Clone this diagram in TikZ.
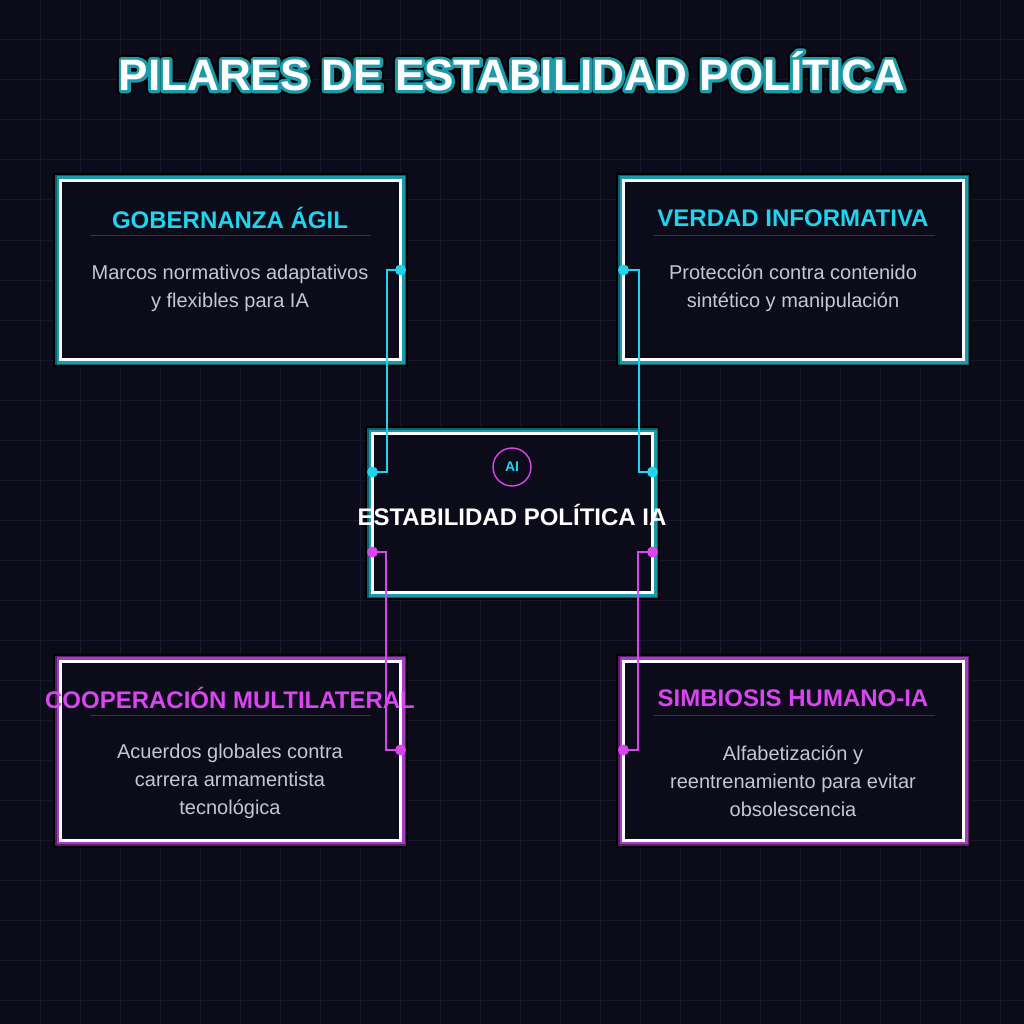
\documentclass[tikz,border=0pt]{standalone}
\usepackage{fontspec}
\setmainfont{Liberation Sans}
\usetikzlibrary{calc}
\definecolor{bg}{HTML}{0B0B1A}
\definecolor{gridc}{HTML}{19182B}
\definecolor{cyanc}{HTML}{22D3EE}
\definecolor{magc}{HTML}{D946EF}
\definecolor{tealA}{HTML}{0F5F6A}
\definecolor{tealB}{HTML}{1A9AAA}
\definecolor{purA}{HTML}{5A1E6A}
\definecolor{purB}{HTML}{A53BC0}
\definecolor{bodyc}{HTML}{C6C6D6}
\definecolor{sepc}{HTML}{34344A}
\newcommand\strokemode[1]{\special{pdf:literal direct 1 Tr #1 w 1 j}}
\newcommand\fillmode{\special{pdf:literal direct 0 Tr}}
\tikzset{
  box/.style={draw=white, line width=3pt, fill=bg, inner sep=0pt},
  cyanbox/.style={box, preaction={draw=black, line width=15pt}, preaction={draw=tealA, line width=11pt}, preaction={draw=tealB, line width=8pt}},
  magbox/.style={box, preaction={draw=black, line width=15pt}, preaction={draw=purA, line width=11pt}, preaction={draw=purB, line width=8pt}},
  sidebox/.style={minimum width=340pt, minimum height=179pt},
  boxtitle/.style={font=\fontsize{24}{28}\selectfont\bfseries, inner sep=0pt},
  boxbody/.style={font=\fontsize{20}{28}\selectfont, text=bodyc, align=center, inner sep=0pt},
  sep/.style={draw=sepc, line width=1pt},
  conn/.style={line width=1.8pt},
  dotc/.style={circle, fill=cyanc, inner sep=0pt, minimum size=11pt},
  dotm/.style={circle, fill=magc, inner sep=0pt, minimum size=11pt},
  bigtitle/.style={font=\fontsize{44}{50}\selectfont\bfseries, inner sep=0pt},
}
\begin{document}
\begin{tikzpicture}[x=1pt, y=-1pt]
\useasboundingbox (0,0) rectangle (1024,1024);
\fill[bg] (0,0) rectangle (1024,1024);
\foreach \g in {40,80,...,1000} {
  \draw[gridc, line width=1pt] (\g,0) -- (\g,1024);
  \draw[gridc, line width=1pt] (0,\g) -- (1024,\g);
}
% title with outline
\node[bigtitle, text=black] (titleK) at (512,71) {\strokemode{10}PILARES DE ESTABILIDAD POLÍTICA\fillmode};
\node[bigtitle, text=tealB] (titleT) at (512,71) {\strokemode{6}PILARES DE ESTABILIDAD POLÍTICA\fillmode};
\node[bigtitle, text=white] (title) at (512,71) {PILARES DE ESTABILIDAD POLÍTICA};

% boxes
\node[cyanbox, sidebox] (gob) at (230.5,270) {};
\node[cyanbox, sidebox] (ver) at (793.5,270) {};
\node[magbox, sidebox] (coo) at (230.5,750.5) {};
\node[magbox, sidebox] (sim) at (793.5,750.5) {};
\node[cyanbox, minimum width=280pt, minimum height=159pt] (core) at (512.5,513) {};

% box texts
\node[boxtitle, text=cyanc] (gobT) at (230,218) {GOBERNANZA ÁGIL};
\draw[sep] (90,235) -- (371,235);
\node[boxbody] (gobB) at (230,288) {Marcos normativos adaptativos\\y flexibles para IA};

\node[boxtitle, text=cyanc] (verT) at (793,218) {VERDAD INFORMATIVA};
\draw[sep] (654,235) -- (935,235);
\node[boxbody] (verB) at (793,288) {Protección contra contenido\\sintético y manipulación};

\node[boxtitle, text=magc] (cooT) at (230,698) {COOPERACIÓN MULTILATERAL};
\draw[sep] (90,715) -- (371,715);
\node[boxbody] (cooB) at (230,781) {Acuerdos globales contra\\carrera armamentista\\tecnológica};

\node[boxtitle, text=magc] (simT) at (793,698) {SIMBIOSIS HUMANO-IA};
\draw[sep] (654,715) -- (935,715);
\node[boxbody] (simB) at (793,781) {Alfabetización y\\reentrenamiento para evitar\\obsolescencia};

% core content
\node[circle, draw=magc, line width=1.4pt, minimum size=38pt, inner sep=0pt, font=\fontsize{14}{16}\selectfont\bfseries, text=cyanc] (ai) at (512,467) {AI};
\node[boxtitle, text=white] (coreT) at (512,515) {ESTABILIDAD POLÍTICA IA};

% connector anchors
\coordinate (c1) at (400.5,270);
\coordinate (c2) at (372.5,472);
\coordinate (c3) at (623.5,270);
\coordinate (c4) at (652.5,472);
\coordinate (m1) at (372.5,552);
\coordinate (m2) at (400.5,750);
\coordinate (m3) at (652.5,552);
\coordinate (m4) at (623.5,750);

\draw[conn, cyanc] (c1) -- (387,270) -- (387,472) -- (c2);
\draw[conn, cyanc] (c3) -- (639,270) -- (639,472) -- (c4);
\draw[conn, magc] (m1) -- (386,552) -- (386,750) -- (m2);
\draw[conn, magc] (m3) -- (638,552) -- (638,750) -- (m4);

\node[dotc] (d1) at (c1) {};
\node[dotc] (d2) at (c2) {};
\node[dotc] (d3) at (c3) {};
\node[dotc] (d4) at (c4) {};
\node[dotm] (d5) at (m1) {};
\node[dotm] (d6) at (m2) {};
\node[dotm] (d7) at (m3) {};
\node[dotm] (d8) at (m4) {};
\end{tikzpicture}
\end{document}
